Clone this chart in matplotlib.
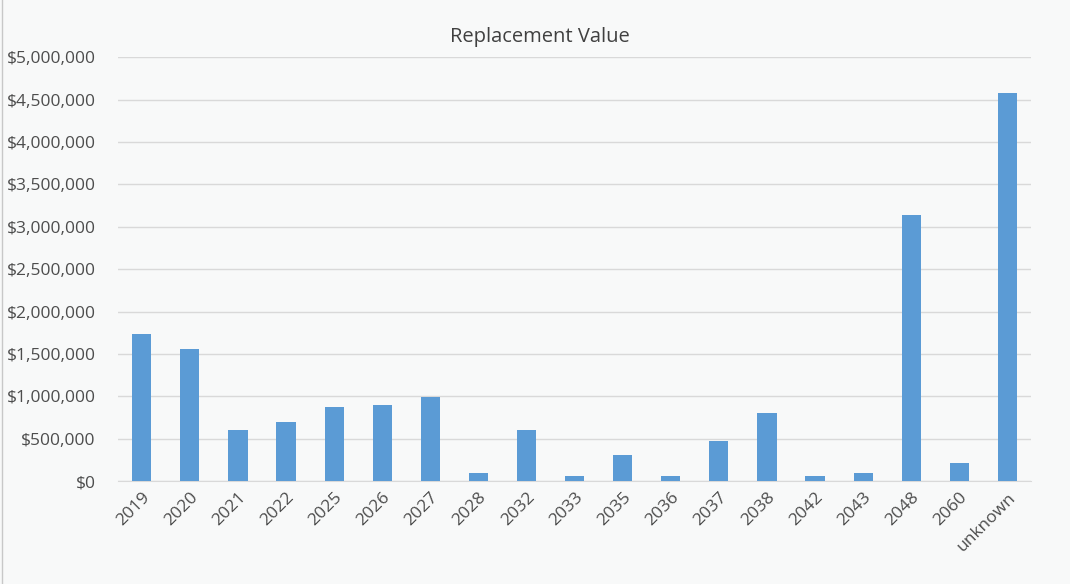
import matplotlib
matplotlib.use('Agg')
import matplotlib.pyplot as plt
from matplotlib.ticker import FuncFormatter

years = ['2019', '2020', '2021', '2022', '2025', '2026', '2027', '2028', '2032',
         '2033', '2035', '2036', '2037', '2038', '2042', '2043', '2048', '2060',
         'unknown']
values = [1740000, 1555000, 605000, 695000, 875000, 895000, 990000, 95000, 605000,
          60000, 315000, 60000, 480000, 805000, 60000, 95000, 3140000, 220000,
          4580000]
y_ticks = list(range(0, 5000001, 500000))

plt.rcParams['font.family'] = ['Open Sans', 'DejaVu Sans']

bg = '#f8f9f9'
fig = plt.figure(figsize=(10.7, 5.84), dpi=100, facecolor=bg)
ax = fig.add_axes([0.110, 0.176, 0.854, 0.726], facecolor=bg)

x = range(len(years))
ax.bar(x, values, width=0.4, color='#5b9bd5', zorder=3)

ax.set_xlim(-0.5, len(years) - 0.5)
ax.set_ylim(0, 5000000)
ax.set_yticks(y_ticks)
ax.yaxis.set_major_formatter(FuncFormatter(lambda v, p: f'${v:,.0f}'))
ax.set_xticks(list(x))
ax.set_xticklabels(years, rotation=45, ha='right', rotation_mode='anchor')

ax.grid(axis='y', color='#d9d9d9', linewidth=1, zorder=0)
for s in ['top', 'right', 'left']:
    ax.spines[s].set_visible(False)
ax.spines['bottom'].set_color('#d9d9d9')
ax.tick_params(axis='both', length=0, labelsize=12.5, colors='#4d4d4d')
ax.tick_params(axis='y', pad=16)
ax.tick_params(axis='x', pad=6)

fig.text(0.505, 0.937, 'Replacement Value', fontsize=14.5, color='#404040',
         ha='center', va='center')

fig.add_artist(plt.Line2D([0.002, 0.002], [0, 1], color='#c8c8c8', linewidth=1))

fig.savefig('out.png', dpi=100, facecolor=bg)
